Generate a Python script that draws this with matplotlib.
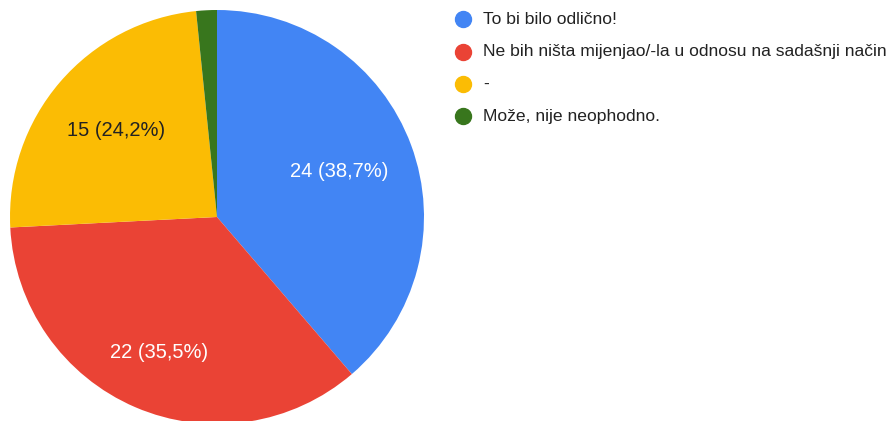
import numpy as np
import matplotlib.pyplot as plt
from matplotlib.lines import Line2D

# Podaci
labels = ['To bi bilo odlično!', 'Ne bih ništa mijenjao/-la u odnosu na sadašnji način', '-', 'Može, nije neophodno.']
counts = [24, 22, 15, 1]
colors = ['#4285F4', '#EA4335', '#FBBC04', '#38761D']
text_colors = ['white', 'white', '#222222', 'white']

W, H = 890, 421
fig = plt.figure(figsize=(W / 100, H / 100), dpi=100)
plt.rcParams['font.family'] = ['Liberation Sans', 'DejaVu Sans']

# Pita: centar (217, 217), radijus 207 px
cx, cy, r = 217, 217, 207
ax = fig.add_axes([(cx - r) / W, (H - cy - r) / H, 2 * r / W, 2 * r / H])
wedges, _ = ax.pie(counts, colors=colors, startangle=90, counterclock=False,
                   radius=1, wedgeprops=dict(linewidth=0))
ax.set_xlim(-1, 1)
ax.set_ylim(-1, 1)
ax.axis('off')

total = sum(counts)
label_r = [0.63, 0.71, 0.64, 0.6]
for w, c, tc, lr in zip(wedges, counts, text_colors, label_r):
    if c / total < 0.05:
        continue
    ang = np.deg2rad((w.theta1 + w.theta2) / 2)
    pct = f'{c / total * 100:.1f}'.replace('.', ',')
    ax.text(lr * np.cos(ang), lr * np.sin(ang), f'{c} ({pct}%)', color=tc,
            ha='center', va='center', fontsize=14.5)

# Legenda
for i, (lab, col) in enumerate(zip(labels, colors)):
    y = 19 + i * 32.5
    fig.add_artist(Line2D([463 / W], [1 - y / H], marker='o', markersize=11.5,
                          color=col, linestyle='none', transform=fig.transFigure))
    fig.text(483 / W, 1 - y / H, lab, ha='left', va='center',
             fontsize=12.6, color='#222222')

plt.savefig('out.png', dpi=100)
